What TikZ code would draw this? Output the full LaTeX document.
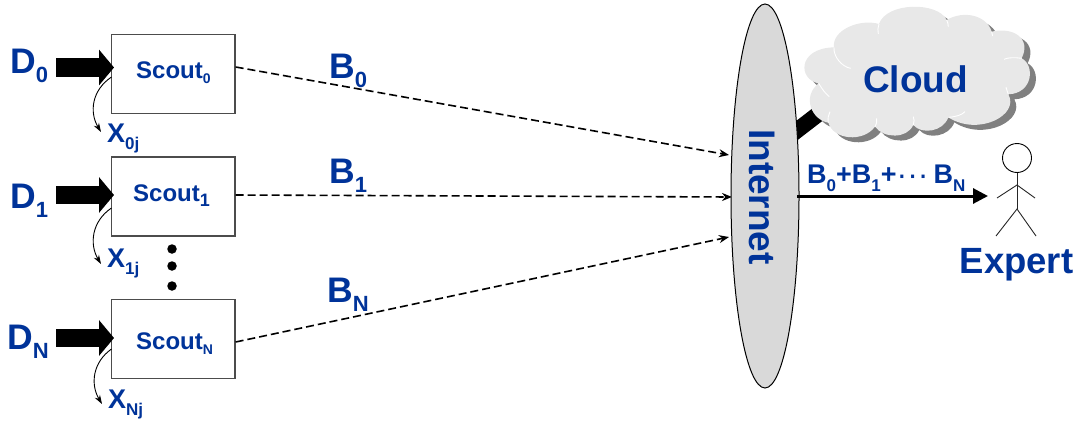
\documentclass[tikz,border=0pt]{standalone}
\usepackage{fontspec}
\setmainfont{Liberation Sans}
\usetikzlibrary{arrows.meta,shapes.geometric}
\definecolor{txt}{HTML}{003399}
\newcommand\fs[1]{\fontsize{#1}{#1}\selectfont}
\newcommand\lo[3]{\raisebox{-#1pt}{\fs{#2}#3}}
\newcommand\cloudpath{(385,368) .. controls (335,360) and (305,290) .. (356,250)
 .. controls (295,240) and (290,145) .. (402,142)
 .. controls (395,90) and (480,55) .. (537,72)
 .. controls (560,5) and (715,5) .. (740,60)
 .. controls (790,30) and (860,45) .. (875,95)
 .. controls (940,80) and (995,115) .. (965,175)
 .. controls (1005,195) and (1000,280) .. (925,283)
 .. controls (960,345) and (835,410) .. (745,352)
 .. controls (730,395) and (665,405) .. (640,375)
 .. controls (620,418) and (550,415) .. (525,380)
 .. controls (490,428) and (400,420) .. (385,368) -- cycle}
\tikzset{
 lab/.style={text=txt,font=\bfseries,inner sep=0pt,anchor=base west},
 box/.style={draw=black!70,line width=1.3pt,minimum width=123.5pt,minimum height=79pt,inner sep=0pt},
 bigarrow/.style={line width=18.5pt,-{Triangle[length=15pt,width=35pt]},black},
 tap/.style={line width=0.9pt,-{Stealth[length=9pt,width=6pt]}},
 link/.style={line width=1.6pt,dash pattern=on 8pt off 4pt,-{Stealth[length=10pt,width=8pt]}},
 dot/.style={circle,fill=black,inner sep=0pt,minimum size=9.5pt},
 fig/.style={line width=0.9pt,draw=black!85},
 lobe/.style={white,line width=0.9pt}
}
\begin{document}
\begin{tikzpicture}[x=1pt,y=-1pt]
\useasboundingbox (0,0) rectangle (1081,423);
% boxes
\node[box] (s0) at (173.25,74) {};
\node[box] (s1) at (173.25,196.5) {};
\node[box] (sN) at (173.25,339) {};
% ends
\coordinate (a0) at (56,67.5); \coordinate (t0) at (114,67.5);
\coordinate (a1) at (56,195); \coordinate (t1) at (114,195);
\coordinate (aN) at (56,338); \coordinate (tN) at (114,338);
\coordinate (x0) at (101,132); \coordinate (x1) at (101,264); \coordinate (xN) at (102,404);
\coordinate (e0) at (729,155); \coordinate (e1) at (732,197); \coordinate (eN) at (729,237);
\coordinate (barS) at (765,155); \coordinate (barE) at (830,105);
% big arrows
\draw[bigarrow] (a0) -- (t0);
\draw[bigarrow] (a1) -- (t1);
\draw[bigarrow] (aN) -- (tN);
% tap arrows
\draw[tap] (111.5,77) .. controls (92,90) and (89,112) .. (x0);
\draw[tap] (111.5,208) .. controls (92,221) and (89,244) .. (x1);
\draw[tap] (111.5,349) .. controls (93,362) and (90,384) .. (xN);
% dots
\node[dot] (d1) at (172,249) {};
\node[dot] (d2) at (172,266) {};
\node[dot] (d3) at (172,286) {};
% links
\draw[link] (s0.east |- 0,67) -- (e0);
\draw[link] (s1.east |- 0,195) -- (e1);
\draw[link] (sN.east |- 0,342) -- (eN);
% bar to cloud
\draw[line width=16pt,black] (barS) -- (barE);
% internet
\node[ellipse,draw=black,line width=1pt,fill=black!15,minimum width=68pt,minimum height=384pt,inner sep=0pt] (inet) at (765,196) {};
\node[text=txt,font=\bfseries\fs{37},rotate=-90,inner sep=0pt] (inetl) at (762.5,197) {Internet};
% cloud
\begin{scope}[shift={(700,0)},x=0.3333pt,y=-0.3333pt]
 \fill[black!50,shift={(18,15)}] \cloudpath;
 \fill[black!9] \cloudpath;
 \draw[lobe] (402,142) .. controls (400,170) and (425,200) .. (452,205);
 \draw[lobe] (356,250) .. controls (365,265) and (375,280) .. (388,290);
 \draw[lobe] (537,72) .. controls (533,82) and (533,92) .. (535,102);
 \draw[lobe] (740,60) .. controls (743,66) and (745,72) .. (745,80);
 \draw[lobe] (875,95) .. controls (877,100) and (878,104) .. (878,108);
 \draw[lobe] (965,175) .. controls (945,172) and (925,172) .. (912,178);
 \draw[lobe] (925,283) .. controls (922,275) and (920,268) .. (918,262);
 \draw[lobe] (745,352) .. controls (770,350) and (785,345) .. (795,335);
 \draw[lobe] (640,375) .. controls (643,365) and (643,358) .. (640,350);
 \draw[lobe] (525,380) .. controls (530,370) and (532,362) .. (530,355);
 \draw[lobe] (385,368) .. controls (383,355) and (385,345) .. (390,335);
\end{scope}
\node[lab,font=\bfseries\fs{37}] (cl) at (863,92) {Cloud};
% output
\node[circle,fill=none,draw=black,line width=0.9pt,minimum size=29pt,inner sep=0pt] (head) at (1017,158) {};
\coordinate (hip) at (1017,209); \coordinate (sh) at (1017,185);
\draw[fig] (head.south) -- (hip);
\draw[fig] (997,198) -- (sh) -- (1035,198);
\draw[fig] (996,236) -- (hip) -- (1036,236);
\coordinate (o0) at (797,196); \coordinate (o1) at (988,196);
\draw[line width=3pt,-{Triangle[length=15pt,width=15pt]}] (o0) -- (o1);
% labels
\node[lab,font=\bfseries\fs{35.5}] (D0) at (10,73) {D\lo{9}{22}{0}};
\node[lab,font=\bfseries\fs{35.5}] (D1) at (10,208) {D\lo{9}{22}{1}};
\node[lab,font=\bfseries\fs{35.5}] (DN) at (7,349) {D\lo{9}{22}{N}};
\node[lab,font=\bfseries\fs{24}] (L0) at (136,78) {Scout\lo{5}{14}{0}};
\node[lab,font=\bfseries\fs{24}] (L1) at (133,201) {Scout\lo{5}{18}{1}};
\node[lab,font=\bfseries\fs{24}] (LN) at (136,349) {Scout\lo{5}{14}{N}};
\node[lab,font=\bfseries\fs{27}] (X0) at (107,142) {X\lo{7}{17}{0j}};
\node[lab,font=\bfseries\fs{27}] (X1) at (107,267) {X\lo{7}{17}{1j}};
\node[lab,font=\bfseries\fs{27}] (XN) at (108,408) {X\lo{7}{17}{Nj}};
\node[lab,font=\bfseries\fs{35.5}] (B0) at (329,78) {B\lo{9}{22}{0}};
\node[lab,font=\bfseries\fs{35.5}] (B1) at (329,183) {B\lo{9}{22}{1}};
\node[lab,font=\bfseries\fs{35.5}] (BN) at (327,302) {B\lo{9}{22}{N}};
\node[lab,font=\bfseries\fs{27}] (sum) at (807,183) {B\lo{8}{17}{0}+B\lo{8}{17}{1}+\raisebox{-2pt}{\fs{32}\mdseries···}\kern 5pt B\lo{8}{17}{N}};
\node[lab,font=\bfseries\fs{36.5}] (ex) at (959.5,273) {Expert};
\end{tikzpicture}
\end{document}
